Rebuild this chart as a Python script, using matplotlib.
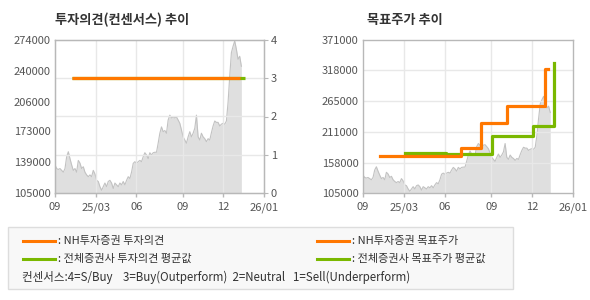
import numpy as np
import matplotlib
matplotlib.use('Agg')
import matplotlib.pyplot as plt
from matplotlib.patches import Rectangle
from matplotlib.lines import Line2D

plt.rcParams['font.family'] = ['Noto Sans CJK KR', 'DejaVu Sans']

# close price, sampled at equal steps (index = time step)
price = [136, 132, 131, 132, 130, 128, 132, 145, 150.6, 143, 136, 130, 132, 128, 141, 138,
         132, 134, 128, 125, 123, 125, 123, 130, 126, 119, 117.7, 112, 108, 112, 116, 112,
         117.7, 119,
         116, 110, 116, 114, 112, 116, 114, 117.7, 114, 119, 123, 121, 128, 137.7, 139.6,
         137.7, 139.6, 141, 139.6, 145, 149.5, 147, 143, 149.5, 147, 149.5, 150, 150, 160,
         171, 178, 172.7, 174, 171, 185.6, 191, 188, 189, 188, 189, 185.6, 182, 174.6, 167,
         163.5, 160, 167, 172.7, 167, 171, 176.5, 191, 167, 163.5, 171, 167, 165, 161.7, 165,
         163.5,
         171.6, 179, 184.5, 183, 183, 179, 181, 182, 181, 184.5, 205, 234, 260, 267, 273,
         263.7, 252.7, 256, 245]
price = [p * 1000 for p in price]

x_ticks = [0, 24.7, 48.9, 76.7, 101.2, 125.6]
x_labels = ['09', '25/03', '06', '09', '12', '26/01']
x_end = 125.6

# investment opinion (consensus, 0~4)
nh_opinion_x = [10, 111]
nh_opinion_y = [3, 3]
avg_opinion_x = [10, 114]
avg_opinion_y = [3, 3]

# target prices: change points (index) and values
nh_target_x = [10, 58.8, 70.8, 86.2, 108.6, 110.4]
nh_target_y = [169000, 184000, 227000, 256000, 321000]
avg_target_x = [25, 49.5, 77, 101.6, 114, 114]
avg_target_y = [175000, 173000, 204000, 221500, 330500]

left_ticks = [105000, 139000, 173000, 206000, 240000, 274000]
right_ticks = [105000, 158000, 211000, 265000, 318000, 371000]

ORANGE = '#ff7700'
GREEN = '#7ab800'
TXT = '#555555'
SPINE = '#b8b8b8'
GRID = '#e8e8e8'


def step_xy(xs, ys):
    sx, sy = [], []
    for i, v in enumerate(ys):
        sx += [xs[i], xs[i + 1]]
        sy += [v, v]
    return sx, sy


def style(ax):
    for s in ax.spines.values():
        s.set_color(SPINE)
        s.set_linewidth(1.0)
    ax.tick_params(colors=SPINE, labelcolor=TXT, labelsize=8, length=3, width=1)
    ax.set_xlim(0, x_end)
    ax.set_xticks(x_ticks)
    ax.set_xticklabels(x_labels)


fig = plt.figure(figsize=(5.9, 3.0), dpi=100)
W, H = 590, 300

px = np.arange(len(price))

# ---- left: opinion chart
ax1 = fig.add_axes([55 / W, 1 - 193 / H, 209 / W, 153 / H])
style(ax1)
ax1.fill_between(px, price, 105000, color='#dfdfdf', lw=0, zorder=1)
ax1.plot(px, price, color='#c2c2c2', lw=0.8, zorder=1.2)
ax1.set_ylim(105000, 274000)
ax1.set_yticks(left_ticks)
ax1.set_yticklabels([str(v) for v in left_ticks])
ax1.tick_params(axis='y', length=0, pad=3)
for xt in x_ticks[1:-1]:
    ax1.axvline(xt, color=GRID, lw=1, zorder=1.5)
for yv in [1, 2, 3]:
    ax1.axhline(105000 + yv * (274000 - 105000) / 4, color=GRID, lw=1, zorder=1.5)

ax1b = ax1.twinx()
ax1b.set_ylim(0, 4)
ax1b.set_yticks([0, 1, 2, 3, 4])
for s in ax1b.spines.values():
    s.set_color(SPINE)
ax1b.tick_params(colors=SPINE, labelcolor=TXT, labelsize=8, length=3, pad=2)
ax1b.plot(avg_opinion_x, avg_opinion_y, color=GREEN, lw=2.3, solid_capstyle='butt')
ax1b.plot(nh_opinion_x, nh_opinion_y, color=ORANGE, lw=2.3, solid_capstyle='butt')
ax1.set_zorder(1)
ax1b.set_zorder(2)
ax1b.patch.set_visible(False)

fig.text(55 / W, 1 - 20 / H, '투자의견(컨센서스) 추이', fontsize=9.5, fontweight='bold',
         color='#333333', va='center', ha='left')

# ---- right: target price chart
ax2 = fig.add_axes([363 / W, 1 - 193 / H, 210 / W, 153 / H])
style(ax2)
ax2.set_ylim(105000, 371000)
ax2.set_yticks(right_ticks)
ax2.set_yticklabels([str(v) for v in right_ticks])
ax2.tick_params(axis='y', length=0, pad=3)
ax2.fill_between(px, price, 105000, color='#dfdfdf', lw=0, zorder=1)
ax2.plot(px, price, color='#c2c2c2', lw=0.8, zorder=1.2)
for xt in x_ticks[1:-1]:
    ax2.axvline(xt, color=GRID, lw=1, zorder=1.5)
for yt in right_ticks[1:-1]:
    ax2.axhline(yt, color=GRID, lw=1, zorder=1.5)
gx, gy = step_xy(avg_target_x, avg_target_y)
ax2.plot(gx, gy, color=GREEN, lw=2.3, zorder=2)
ox, oy = step_xy(nh_target_x, nh_target_y)
ax2.plot(ox, oy, color=ORANGE, lw=2.3, zorder=3)

fig.text(367 / W, 1 - 20 / H, '목표주가 추이', fontsize=9.5, fontweight='bold',
         color='#333333', va='center', ha='left')

# ---- legend box
fig.patches.append(Rectangle((8 / W, 1 - 289 / H), 505 / W, 62 / H, transform=fig.transFigure,
                             facecolor='#f8f8f8', edgecolor='#dddddd', lw=1))
legend_items = [
    (23, 241, ORANGE, ': NH투자증권 투자의견'),
    (23, 259, GREEN, ': 전체증권사 투자의견 평균값'),
    (317, 241, ORANGE, ': NH투자증권 목표주가'),
    (317, 259, GREEN, ': 전체증권사 목표주가 평균값'),
]
for lx, ly, c, label in legend_items:
    fig.add_artist(Line2D([lx / W, (lx + 32) / W], [1 - ly / H, 1 - ly / H],
                          transform=fig.transFigure, color=c, lw=2.2))
    fig.text((lx + 35) / W, 1 - ly / H, label, fontsize=8, color='#333333', va='center')
fig.text(22 / W, 1 - 277 / H,
         '컨센서스:4=S/Buy    3=Buy(Outperform)  2=Neutral   1=Sell(Underperform)',
         fontsize=8.3, color='#333333', va='center')

fig.savefig('out.png', dpi=100, facecolor='white')
